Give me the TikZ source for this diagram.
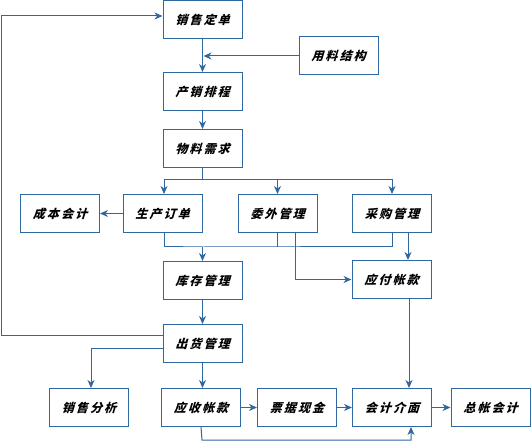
\documentclass[tikz,border=0pt]{standalone}
\usepackage{fontspec}
\newfontfamily\cjk[FakeSlant=0.3,LetterSpace=18]{Noto Sans CJK SC}
\usetikzlibrary{arrows.meta}
\definecolor{ln}{HTML}{2F67A0}
\tikzset{
  box/.style={draw=ln,line width=1pt,minimum width=79pt,minimum height=38pt,inner sep=0pt,font=\cjk\bfseries\fontsize{12}{14}\selectfont,text=black},
  arr/.style={draw=ln,line width=1pt,-{Stealth[length=8pt,width=7pt,inset=2.5pt]}},
  ln/.style={draw=ln,line width=1pt}
}
\begin{document}
\begin{tikzpicture}[x=1pt,y=-1pt]
\useasboundingbox (0,0) rectangle (531,441);
\node[box] (xd) at (202.5,20) {销售定单};
\node[box] (yl) at (338.5,56) {用料结构};
\node[box] (cx) at (202.5,91.5) {产销排程};
\node[box] (wl) at (202.5,148.5) {物料需求};
\node[box] (cb) at (60,213.5) {成本会计};
\node[box] (sc) at (162.5,213.5) {生产订单};
\node[box] (ww) at (277.5,213.5) {委外管理};
\node[box] (cg) at (392,213.5) {采购管理};
\node[box] (kc) at (202.5,280.5) {库存管理};
\node[box] (yf) at (391.5,279.5) {应付帐款};
\node[box] (ch) at (202.5,343.5) {出货管理};
\node[box] (xf) at (89,407.5) {销售分析};
\node[box] (ys) at (201,407.5) {应收帐款};
\node[box] (pj) at (297,407.5) {票据现金};
\node[box] (kj) at (392,407.5) {会计介面};
\node[box] (zz) at (490.5,407.5) {总帐会计};
\coordinate (lp) at (1.5,100);
\coordinate (b1) at (202.5,180);
\coordinate (b2) at (202.5,247);
\coordinate (b3) at (202,440);
% feedback loop
\draw[arr] ([yshift=7.5pt]ch.west) -| (lp) |- ([yshift=4pt]xd.west);
\draw[arr] (xd.south) -- (cx.north);
\draw[arr] (yl.west) -- ([xshift=1pt]xd.south |- yl.west);
\draw[arr] (cx.south) -- (wl.north);
\draw[ln] (wl.south) -- (b1);
\draw[arr] (b1) -| ([xshift=1.5pt]sc.north);
\draw[arr] (b1) -| (cg.north);
\draw[arr] (ww.north |- b1) -- (ww.north);
\draw[arr] (sc.west) -- (cb.east);
\draw[ln] ([xshift=1.5pt]sc.south) |- (b2) -| (cg.south);
\draw[ln] (ww.south) -- (ww.south |- b2);
\draw[arr] (b2) -- (kc.north);
\draw[arr] ([xshift=17.5pt]ww.south) |- (yf.west);
\draw[arr] ([xshift=16pt]cg.south) -- ([xshift=16pt]cg.south |- yf.north);
\draw[arr] (kc.south) -- (ch.north);
\draw[arr] ([yshift=-5.5pt]ch.west) -| ([xshift=2pt]xf.north);
\draw[arr] (ch.south) -- (ch.south |- ys.north);
\draw[arr] (ys.east) -- (pj.west);
\draw[arr] (pj.east) -- (kj.west);
\draw[arr] (kj.east) -- (zz.west);
\draw[arr] ([xshift=17.5pt]yf.south) -- ([xshift=17.5pt]yf.south |- kj.north);
\draw[arr] (ys.south) -- (b3) -| ([xshift=19pt]kj.south);
\end{tikzpicture}
\end{document}
